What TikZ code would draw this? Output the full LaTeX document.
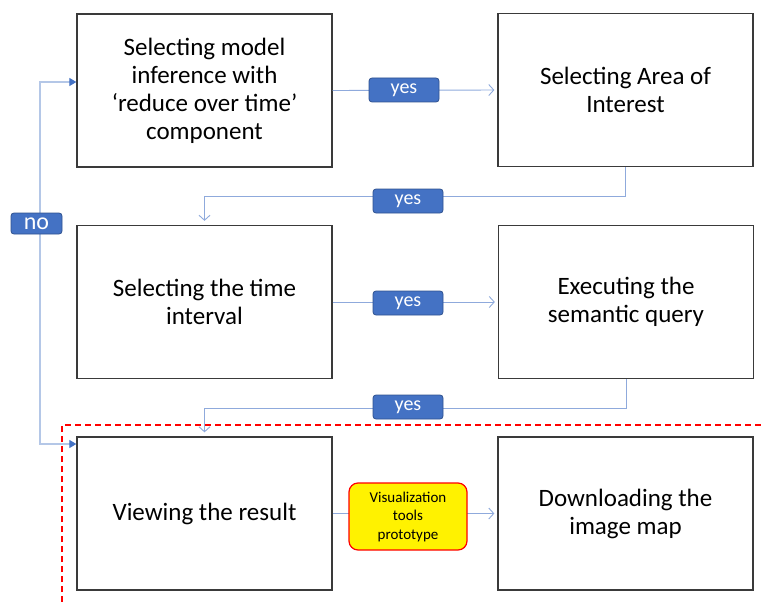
\documentclass[tikz,border=0pt]{standalone}
\usepackage{fontspec}
\setmainfont{Carlito}
\usetikzlibrary{arrows.meta}
\definecolor{flowblue}{HTML}{8FAADC}
\definecolor{lightblue}{HTML}{B4C7E7}
\definecolor{tagfill}{HTML}{4472C4}
\definecolor{tagedge}{HTML}{2F528F}
\definecolor{boxedge}{HTML}{3A3A3A}
\begin{document}
\begin{tikzpicture}[x=1pt,y=-1pt,
  stepbox/.style={draw=boxedge, line width=1.3pt, minimum width=255pt,
    minimum height=153pt, align=center, inner sep=0pt,
    font=\fontsize{25}{28}\selectfont},
  flow/.style={draw=flowblue, line width=0.9pt,
    -{Straight Barb[length=5pt,width=11pt]}, shorten >=3pt},
  noflow/.style={draw=lightblue, line width=1.1pt,
    -{Triangle[length=7pt,width=8pt,color=tagfill]}},
  tag/.style={fill=tagfill, draw=tagedge, line width=0.8pt, rounded corners=3pt,
    text=white, minimum width=70pt, minimum height=24pt, inner sep=0pt,
    font=\fontsize{20}{22}\selectfont},
  protobox/.style={fill=yellow, draw=red, line width=1.2pt, rounded corners=9pt,
    minimum width=118pt, minimum height=67pt, align=center, inner sep=0pt,
    font=\fontsize{15}{18.5}\selectfont}]
\useasboundingbox (0,0) rectangle (761,602);

% process steps
\node[stepbox] (b1) at (204.5,90.5) {Selecting model\\inference with\\‘reduce over time’\\component};
\node[stepbox] (b2) at (625.5,90) {Selecting Area of\\Interest};
\node[stepbox] (b3) at (204.5,302) {Selecting the time\\interval};
\node[stepbox] (b4) at (626,302) {Executing the\\semantic query};
\node[stepbox] (b5) at (204.5,513.5) {Viewing the result};
\node[stepbox] (b6) at (625.5,513.5) {Downloading the\\image map};

% region covered by the prototype
\draw[red, line width=1.2pt, dash pattern=on 6pt off 4pt] (62,602) -- (62,425) -- (761,425);

% "yes" transitions
\draw[flow] (b1.east) -- (b2.west);
\node[tag] (y1) at (404,90) {yes};

\draw[flow, shorten >=4pt] (b2.south) -- ++(0,29.5) -| (b3.north);
\node[tag] (y2) at (408,201) {yes};

\draw[flow] (b3.east) -- (b4.west);
\node[tag] (y3) at (408,303) {yes};

\draw[flow, shorten >=4pt] (b4.south) -- ++(0,29.5) -| (b5.north);
\node[tag] (y4) at (408,407) {yes};

\draw[flow] (b5.east) -- (b6.west);
\node[protobox] (proto) at (408,516.5) {Visualization\\tools\\prototype};

% "no" transitions back to the start and to the result
\coordinate (nojoint) at (40,223.5);
\draw[noflow] (nojoint) |- ([yshift=8.5pt]b1.west);
\draw[noflow] (nojoint) |- ([yshift=69.5pt]b5.west);
\node[tag, minimum width=51pt, minimum height=21pt, font=\fontsize{24}{26}\selectfont] (no) at (36.5,223.5) {no};
\end{tikzpicture}
\end{document}
